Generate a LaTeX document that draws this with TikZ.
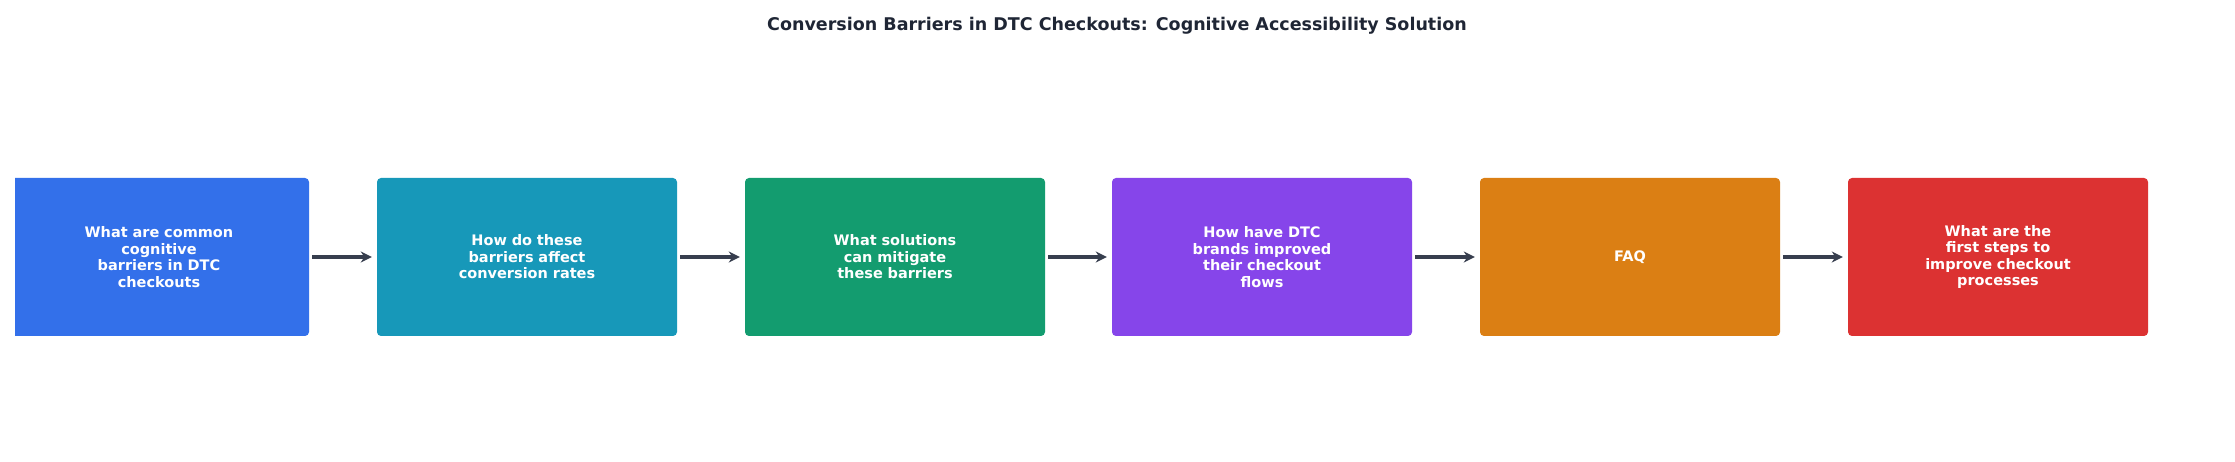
\documentclass[tikz,border=0pt]{standalone}
\usepackage{fontspec}
\setmainfont{DejaVu Sans}
\usetikzlibrary{arrows.meta}

\definecolor{stepA}{HTML}{3370EA}
\definecolor{stepB}{HTML}{1798B9}
\definecolor{stepC}{HTML}{139C6F}
\definecolor{stepD}{HTML}{8645EA}
\definecolor{stepE}{HTML}{DB7F14}
\definecolor{stepF}{HTML}{DC3232}
\definecolor{arrowcol}{HTML}{373E4E}
\definecolor{titlecol}{HTML}{1F2635}

\tikzset{
  stage/.style={rectangle,rounded corners=4bp,minimum width=300bp,minimum height=158bp,
    text width=270bp,align=center,text=white,inner sep=0pt,
    font=\fontsize{14.5bp}{16.5bp}\selectfont\bfseries},
  link/.style={-{Stealth[length=11bp,width=11bp]},line width=3.5bp,arrowcol,shorten <=3bp,shorten >=5bp}
}

\begin{document}
\begin{tikzpicture}[x=1bp,y=1bp]

\useasboundingbox (0,0) rectangle (2235,462);

% Title
\node[font=\fontsize{17.5bp}{20bp}\selectfont\bfseries,text=titlecol] (title) at (1117,436)
  {Conversion Barriers in DTC Checkouts: Cognitive Accessibility Solution};

\begin{scope}
\clip (15,0) rectangle (2235,462);

% Stages
\node[stage,fill=stepA] (s1) at (159,205) {What are common\\cognitive\\barriers in DTC\\checkouts};
\node[stage,fill=stepB] (s2) at (527,205) {How do these\\barriers affect\\conversion rates};
\node[stage,fill=stepC] (s3) at (895,205) {What solutions\\can mitigate\\these barriers};
\node[stage,fill=stepD] (s4) at (1262,205) {How have DTC\\brands improved\\their checkout\\flows};
\node[stage,fill=stepE] (s5) at (1630,205) {FAQ};
\node[stage,fill=stepF] (s6) at (1998,205) {What are the\\first steps to\\improve checkout\\processes};

% Links
\foreach \a/\b in {s1/s2,s2/s3,s3/s4,s4/s5,s5/s6}
  \draw[link] (\a) -- (\b);
\end{scope}

\end{tikzpicture}
\end{document}
